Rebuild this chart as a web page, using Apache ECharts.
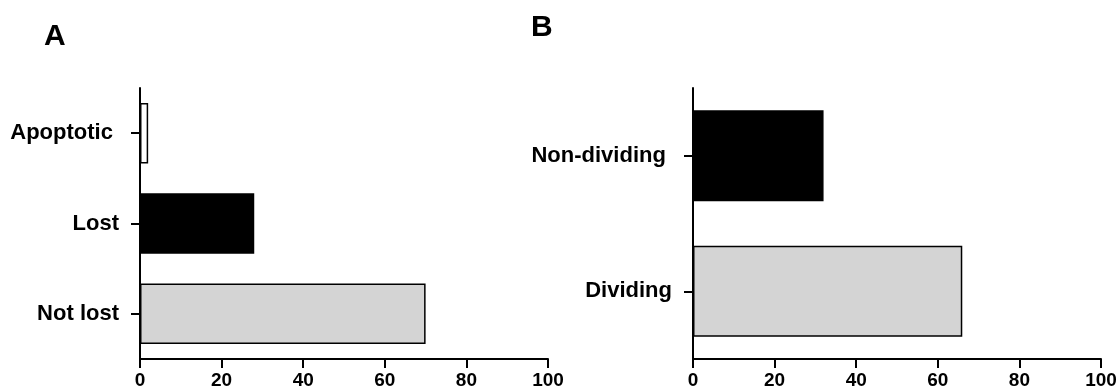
<!DOCTYPE html>
<html>
<head>
<meta charset="utf-8">
<script src="https://cdn.jsdelivr.net/npm/echarts@6/dist/echarts.min.js"></script>
<style>
html,body{margin:0;padding:0;background:#fff;}
#chart{width:1120px;height:390px;}
</style>
</head>
<body>
<div id="chart"></div>
<script>
// Panel A
const categoriesA = ['Not lost', 'Lost', 'Apoptotic '];
const valuesA = [70, 28, 2];
// Panel B
const categoriesB = ['Dividing', 'Non-dividing '];
const valuesB = [66, 32];
// x-axis range
const xMin = 0, xMax = 100, xInterval = 20;
const panelTitles = ['A', 'B'];

const fillsA = ['#d4d4d4', '#000000', '#ffffff'];
const fillsB = ['#d4d4d4', '#000000'];

const FONT = '"Liberation Sans", Arial, sans-serif';

function xAxisCfg(gi) {
  return {
    type: 'value', gridIndex: gi, min: xMin, max: xMax, interval: xInterval,
    axisLine: { show: true, lineStyle: { color: '#000', width: 2 } },
    axisTick: { show: true, length: 9, lineStyle: { color: '#000', width: 2 } },
    axisLabel: { color: '#000', fontFamily: FONT, fontWeight: 'bold', fontSize: 19, margin: 12 },
    splitLine: { show: false }
  };
}
function yAxisCfg(gi, cats) {
  return {
    type: 'category', gridIndex: gi, data: cats,
    axisLine: { show: true, lineStyle: { color: '#000', width: 2 } },
    axisTick: { show: true, alignWithLabel: true, length: 9, lineStyle: { color: '#000', width: 2 } },
    axisLabel: { color: '#000', fontFamily: FONT, fontWeight: 'bold', fontSize: 22, margin: 21 },
    splitLine: { show: false }
  };
}
function seriesData(vals, fills) {
  return vals.map((v, i) => ({ value: v, itemStyle: { color: fills[i] } }));
}

const chart = echarts.init(document.getElementById('chart'), null, { renderer: 'canvas' });
chart.setOption({
  backgroundColor: '#fff',
  animation: false,
  title: [
    { text: panelTitles[0], left: 39, top: 17, textStyle: { fontFamily: FONT, fontWeight: 'bold', fontSize: 30, color: '#000' } },
    { text: panelTitles[1], left: 526, top: 8, textStyle: { fontFamily: FONT, fontWeight: 'bold', fontSize: 30, color: '#000' } }
  ],
  grid: [
    { left: 140, top: 88, width: 408, height: 271, containLabel: false },
    { left: 693, top: 88, width: 408, height: 271, containLabel: false }
  ],
  xAxis: [xAxisCfg(0), xAxisCfg(1)],
  yAxis: [yAxisCfg(0, categoriesA), yAxisCfg(1, categoriesB)],
  series: [
    { type: 'bar', xAxisIndex: 0, yAxisIndex: 0, barWidth: '67%',
      itemStyle: { borderColor: '#000', borderWidth: 1.5 },
      data: seriesData(valuesA, fillsA) },
    { type: 'bar', xAxisIndex: 1, yAxisIndex: 1, barWidth: '67%',
      itemStyle: { borderColor: '#000', borderWidth: 1.5 },
      data: seriesData(valuesB, fillsB) }
  ]
});
</script>
</body>
</html>
